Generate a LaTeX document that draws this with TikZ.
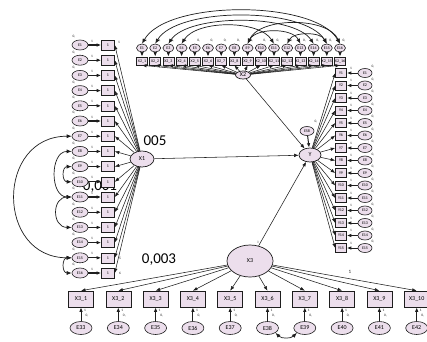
\documentclass[tikz,border=0pt]{standalone}
\usepackage{fontspec}
\setmainfont{Carlito}
\usetikzlibrary{arrows.meta,shapes.geometric}
\definecolor{pk}{RGB}{236,222,236}
\definecolor{ln}{RGB}{30,30,30}
\begin{document}
\begin{tikzpicture}[x=1pt,y=-1pt,
  obs/.style={draw=ln, fill=pk, inner sep=0pt, line width=0.6pt, font=\fontsize{4}{4}\selectfont},
  err/.style={draw=ln, ellipse, fill=pk, inner sep=0pt, line width=0.6pt, font=\fontsize{4}{4}\selectfont},
  lat/.style={draw=ln, ellipse, fill=pk, inner sep=0pt, line width=0.7pt, font=\fontsize{6}{6}\selectfont},
  arr/.style={draw=ln, line width=0.55pt, -{Latex[length=4.5pt,width=3.5pt]}},
  cov/.style={draw=ln, line width=0.7pt, {Latex[length=5pt,width=4pt]}-{Latex[length=5pt,width=4pt]}},
  lbl/.style={inner sep=0pt, font=\fontsize{3.5}{3.5}\selectfont, text=ln},
  big/.style={inner sep=0pt, font=\fontsize{15}{15}\selectfont, text=black}]
\useasboundingbox (0,0) rectangle (427,341);
\fill[white] (0,0) rectangle (427,341);
% large estimate labels (drawn first, partly covered)
\node[big] (t1) at (100,187) {0,001};
\node[big] (t2) at (155,141) {005};
\node[big] (t3) at (159,260) {0,003};
% ---------- left column (X1) ----------
\foreach \i in {1,...,16} {
  \pgfmathsetmacro\yy{45+15.2*(\i-1)}
  \node[obs, minimum width=13pt, minimum height=10pt] (a\i) at (108,\yy) {1};
  \node[err, minimum width=16pt, minimum height=10pt] (ea\i) at (80,\yy) {E\i};
  \draw[arr, line width=1.1pt] (ea\i) -- (a\i);
  \node[lbl] (la\i) at (74,\yy-8) {0,};
  \node[lbl] (lb\i) at (92,\yy-4) {1};
}
\node[lat, minimum width=24pt, minimum height=16pt] (x1) at (142,159) {X1};
\foreach \i in {1,...,16} \draw[arr] (x1) -- (a\i.east);
\node[lbl] (q15) at (120,258) {5};
\node[lbl] (q16) at (120,273) {6};
\node[lbl] (q1) at (119,42) {1};
% left covariances
\draw[cov] (ea7.west) .. controls +(-76,0) and +(-76,0) .. (ea15.west);
\draw[cov] (ea8.west) .. controls +(-22,0) and +(-22,0) .. (ea11.west);
\draw[cov] (ea9.west) .. controls +(-10,0) and +(-10,0) .. (ea10.west);
\draw[cov] (ea11.west) .. controls +(-20,0) and +(-20,0) .. (ea13.west);
\draw[cov] (ea15.west) .. controls +(-10,0) and +(-10,0) .. (ea16.west);
% ---------- top row (X2) ----------
\foreach \i in {1,...,16} {
  \pgfmathsetmacro\xx{142+13.2*(\i-1)}
  \node[obs, minimum width=11pt, minimum height=8pt] (b\i) at (\xx,61) {X2\_\i};
  \node[err, minimum width=11pt, minimum height=8pt] (eb\i) at (\xx,48) {E\i};
  \draw[arr, line width=1pt] (eb\i) -- (b\i);
  \node[lbl] (lc\i) at (\xx+4,41) {0,};
}
\node[lat, minimum width=15pt, minimum height=8pt] (x2) at (243,75) {X2};
\foreach \i in {1,...,16} \draw[arr] (x2) -- (b\i.south);
% top covariances
\draw[cov] (eb1.north) .. controls +(25,-44) and +(-25,-44) .. (eb16.north);
\draw[cov] (eb2.north) .. controls +(22,-37) and +(-22,-37) .. (eb15.north);
\draw[cov] (eb3.north) .. controls +(20,-30) and +(-20,-30) .. (eb14.north);
\draw[cov] (eb4.north) .. controls +(15,-24) and +(-15,-24) .. (eb11.north);
\draw[cov] (eb9.north) .. controls +(12,-27) and +(-12,-27) .. (eb16.north);
\draw[cov] (eb9.north) .. controls +(8,-16) and +(-8,-16) .. (eb13.north);
\draw[cov] (eb12.north) .. controls +(6,-12) and +(-6,-12) .. (eb15.north);
% ---------- right column (Y) ----------
\node[lat, minimum width=22pt, minimum height=14pt] (y) at (310,155) {Y};
\node[err, minimum width=14pt, minimum height=9pt] (ey) at (307,131) {E58};
\node[lbl] (ly) at (316,122) {0,};
\draw[arr, line width=1pt] (ey) -- (y);
\foreach \i in {1,...,15} {
  \pgfmathsetmacro\yy{73+12.5*(\i-1)}
  \node[obs, minimum width=11pt, minimum height=9pt] (c\i) at (341,\yy) {Y\i};
  \node[err, minimum width=14pt, minimum height=9pt] (ec\i) at (365,\yy) {E\i};
  \draw[arr, line width=1pt] (ec\i) -- (c\i);
  \node[lbl] (ld\i) at (351,\yy-5) {1};
  \node[lbl] (le\i) at (373,\yy-6) {0,};
  \draw[arr] (y) -- (c\i.west);
}
% ---------- bottom (X3) ----------
\node[lat, minimum width=46pt, minimum height=32pt] (x3) at (250,261) {X3};
\node[lbl, text=gray] (l3) at (258,242) {0};
\foreach \i in {1,...,10} {
  \pgfmathsetmacro\xx{81+37.3*(\i-1)}
  \pgfmathtruncatemacro\ee{32+\i}
  \node[obs, minimum width=25pt, minimum height=16pt, font=\fontsize{6}{6}\selectfont] (d\i) at (\xx,299) {X3\_\i};
  \node[err, minimum width=22pt, minimum height=13pt, font=\fontsize{6}{6}\selectfont] (ed\i) at (\xx,328) {E\ee};
  \draw[arr, line width=1pt] (ed\i) -- (d\i);
  \node[lbl] (lf\i) at (\xx+4,310) {1};
  \node[lbl] (lg\i) at (\xx+6,316) {0,};
  \draw[arr] (x3) -- (d\i.north);
}
\node[lbl, font=\fontsize{5}{5}\selectfont] (l1) at (350,272) {1};
\draw[cov] (ed6.south east) .. controls +(6,6) and +(-6,6) .. (ed7.south west);
% ---------- structural paths ----------
\draw[arr] (x1) -- (y);
\draw[arr] (x2) -- (y);
\draw[arr] (x3) -- (y);
\end{tikzpicture}
\end{document}
